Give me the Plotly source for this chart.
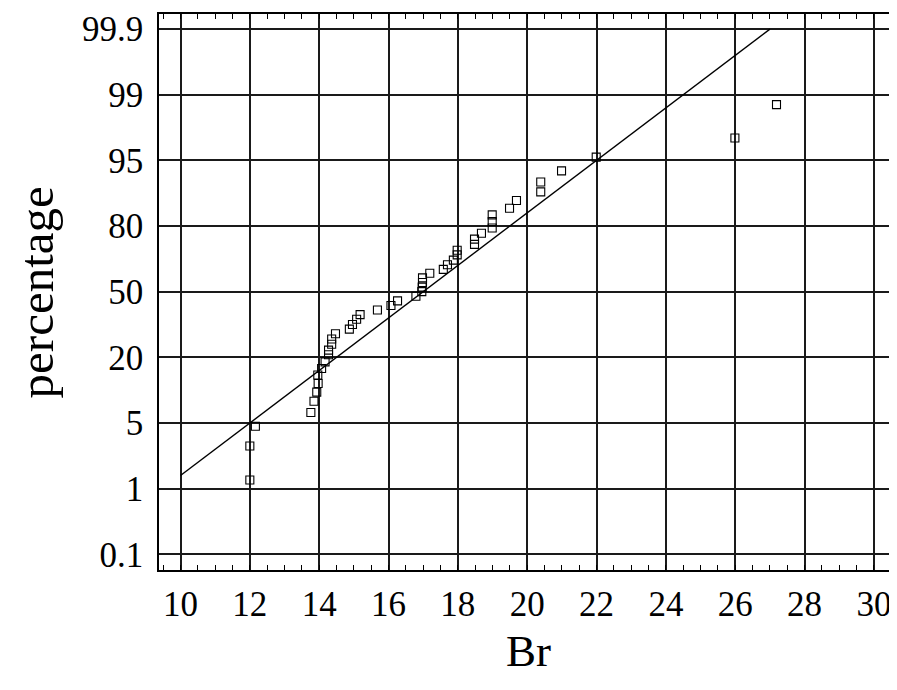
import plotly.graph_objects as go

# Observed Br values and their plotting positions (in probability-grid units:
# 0 = 0.1 %, 1 = 1 %, 2 = 5 %, 3 = 20 %, 4 = 50 %, 5 = 80 %, 6 = 95 %, 7 = 99 %, 8 = 99.9 %)
br = [12.0, 12.0, 12.16, 13.76, 13.85, 13.93, 13.97, 13.96, 14.07, 14.17,
      14.27, 14.27, 14.36, 14.36, 14.47, 14.87, 14.96, 15.08, 15.18, 15.68,
      16.07, 16.26, 16.79, 16.96, 16.97, 16.98, 16.98, 17.19, 17.58, 17.70,
      17.87, 17.98, 17.98, 18.48, 18.48, 18.68, 18.99, 18.99, 18.99, 19.49,
      19.69, 20.39, 20.39, 20.99, 21.99, 25.99, 27.19]
prob_pos = [1.13, 1.65, 1.95, 2.16, 2.33, 2.47, 2.60, 2.73, 2.83, 2.93,
            3.04, 3.11, 3.20, 3.28, 3.36, 3.43, 3.50, 3.58, 3.65, 3.72,
            3.79, 3.86, 3.93, 4.00, 4.07, 4.14, 4.21, 4.28, 4.34, 4.41,
            4.48, 4.56, 4.63, 4.72, 4.80, 4.89, 4.97, 5.07, 5.17, 5.27,
            5.39, 5.52, 5.67, 5.84, 6.05, 6.34, 6.85]

# Fitted normal line
fit_br = [10.0, 27.0]
fit_pos = [1.2, 8.0]

y_tickvals = [0, 1, 2, 3, 4, 5, 6, 7, 8]
y_ticktext = ["0.1", "1", "5", "20", "50", "80", "95", "99", "99.9"]
x_tickvals = [10, 12, 14, 16, 18, 20, 22, 24, 26, 28, 30]

FONT = "Liberation Serif"

fig = go.Figure()
fig.add_trace(go.Scatter(
    x=fit_br, y=fit_pos, mode="lines",
    line=dict(color="black", width=1.4),
    showlegend=False, hoverinfo="skip"))
fig.add_trace(go.Scatter(
    x=br, y=prob_pos, mode="markers",
    marker=dict(symbol="square-open", size=8, color="black",
                line=dict(color="black", width=1.1)),
    showlegend=False))

fig.update_layout(
    width=889, height=682,
    margin=dict(l=151, r=2, t=4, b=120),
    paper_bgcolor="white", plot_bgcolor="white",
    font=dict(family=FONT, color="black"),
    xaxis=dict(
        range=[9.38, 30.55],
        tickmode="array", tickvals=x_tickvals,
        ticks="inside", ticklen=5, tickcolor="black", tickwidth=1,
        minor=dict(dtick=0.5, ticks="inside", ticklen=5, tickcolor="black",
                   tickwidth=1, showgrid=False),
        showgrid=True, gridcolor="#1a1a1a", gridwidth=1.8,
        showline=True, linecolor="black", linewidth=1.6, mirror="ticks",
        zeroline=False,
        tickfont=dict(family=FONT, size=35, color="black"),
        ticklabelstandoff=2,
    ),
    yaxis=dict(
        range=[-0.24, 8.23],
        tickmode="array", tickvals=y_tickvals, ticktext=y_ticktext,
        ticks="",
        showgrid=True, gridcolor="#1a1a1a", gridwidth=1.8,
        showline=True, linecolor="black", linewidth=1.6, mirror=True,
        zeroline=False,
        tickfont=dict(family=FONT, size=35, color="black"),
        ticklabelstandoff=7,
    ),
    annotations=[
        dict(text="percentage", xref="paper", yref="paper",
             x=-0.167, y=0.5, showarrow=False, textangle=-90,
             font=dict(family=FONT, size=49, color="black"),
             xanchor="center", yanchor="middle"),
        dict(text="Br", xref="paper", yref="paper",
             x=0.504, y=-0.146, showarrow=False,
             font=dict(family=FONT, size=45, color="black"),
             xanchor="center", yanchor="middle"),
    ],
)

fig.write_html("out.html")
